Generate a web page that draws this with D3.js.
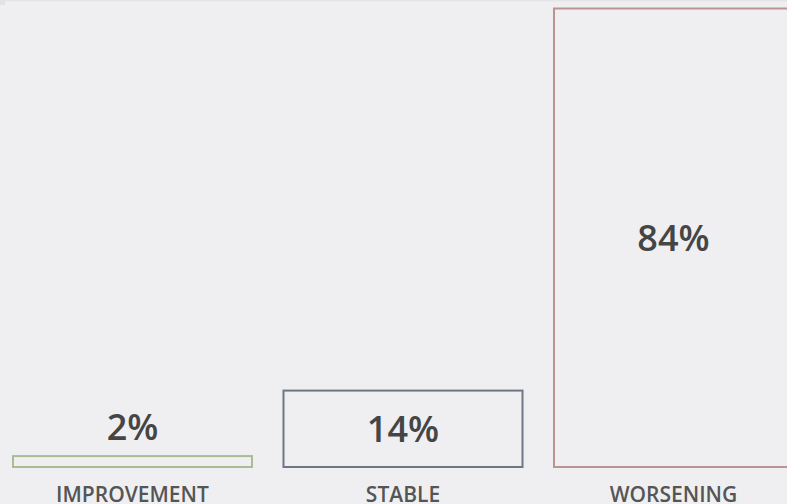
<!DOCTYPE html>
<html>
<head>
<meta charset="utf-8">
<script src="https://cdn.jsdelivr.net/npm/d3@7"></script>
<style>
  html, body { margin: 0; padding: 0; background: #efeff1; overflow: hidden; }
  svg { display: block; }
</style>
</head>
<body>
<svg id="chart" width="787" height="504"></svg>
<script>
// Share of cases by trend
const categories = ["IMPROVEMENT", "STABLE", "WORSENING"];
const shares = [2, 14, 84];
const valueLabels = ["2%", "14%", "84%"];
const strokeColors = ["#a9bd95", "#6f7787", "#b89590"];

const width = 787, height = 504;
const svg = d3.select("#chart");

svg.append("rect").attr("width", width).attr("height", height).attr("fill", "#efeff1");
svg.append("rect").attr("width", width).attr("height", 1.5).attr("fill", "#e5e5e8");
svg.append("rect").attr("width", 5).attr("height", 5).attr("fill", "#e3e3e5");

const baseline = 467;
const x = d3.scaleBand()
  .domain(categories)
  .range([12, 794])
  .paddingInner(0.109)
  .paddingOuter(0);

const y = d3.scaleLinear()
  .domain([0, 84])
  .range([baseline, 8.5]);

const data = categories.map((c, i) => ({ cat: c, v: shares[i], label: valueLabels[i], color: strokeColors[i] }));

const g = svg.append("g");

g.selectAll("rect.bar")
  .data(data)
  .join("rect")
  .attr("class", "bar")
  .attr("x", d => x(d.cat) + 1)
  .attr("y", d => y(d.v))
  .attr("width", x.bandwidth() - 2)
  .attr("height", d => baseline - y(d.v))
  .attr("fill", "none")
  .attr("stroke", d => d.color)
  .attr("stroke-width", 2);

// value labels: centred in tall bars, above short ones
g.selectAll("text.val")
  .data(data)
  .join("text")
  .attr("class", "val")
  .attr("x", d => x(d.cat) + x.bandwidth() / 2)
  .attr("y", d => {
    const h = baseline - y(d.v);
    return h > 45 ? (y(d.v) + baseline) / 2 + 13 : y(d.v) - 16;
  })
  .attr("text-anchor", "middle")
  .attr("font-family", "'Open Sans', sans-serif")
  .attr("font-weight", 600)
  .attr("font-size", 36)
  .attr("fill", "#454545")
  .text(d => d.label);

g.selectAll("text.cat")
  .data(data)
  .join("text")
  .attr("class", "cat")
  .attr("x", d => x(d.cat) + x.bandwidth() / 2)
  .attr("y", 502)
  .attr("text-anchor", "middle")
  .attr("font-family", "'Open Sans', sans-serif")
  .attr("font-weight", 600)
  .attr("font-size", 21)
  .attr("fill", "#555555")
  .text(d => d.cat);
</script>
</body>
</html>
